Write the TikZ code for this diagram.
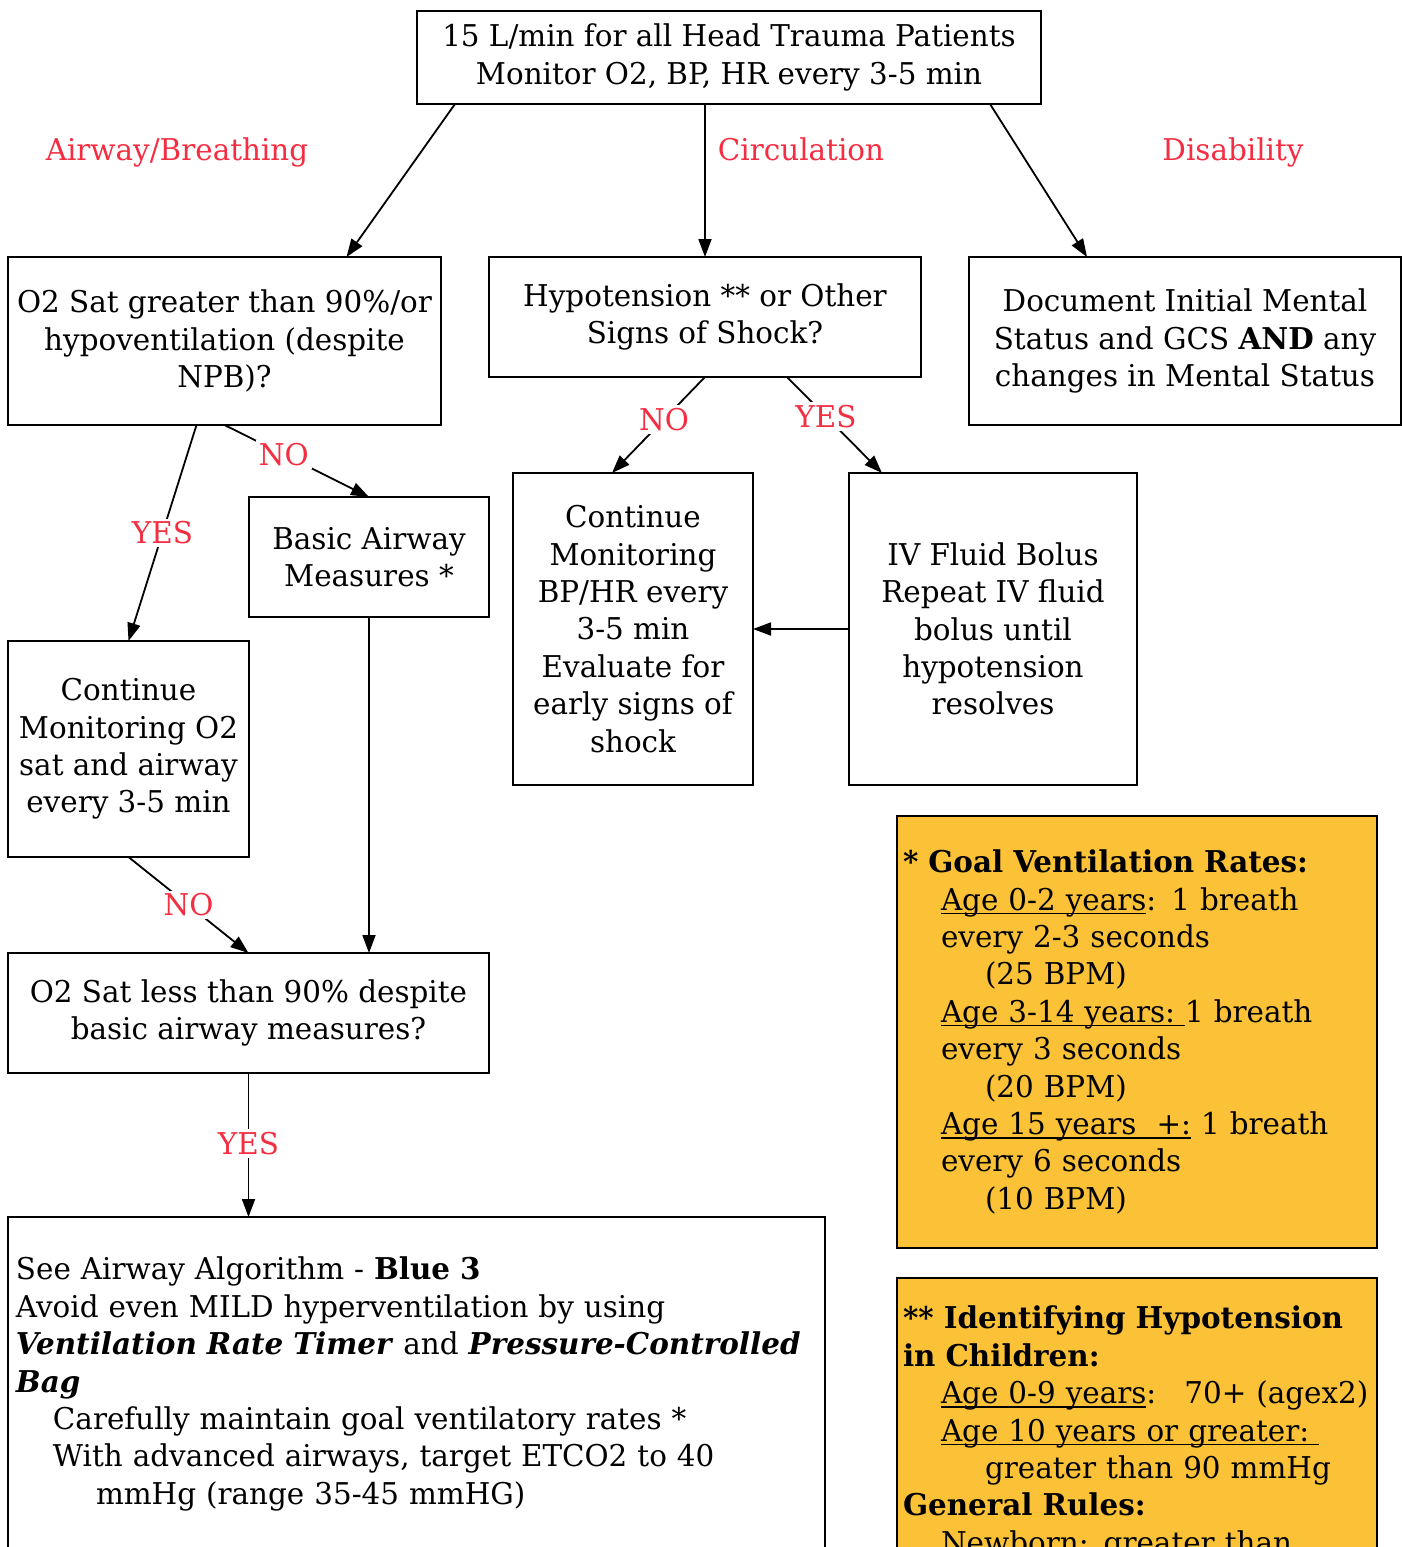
\documentclass[tikz,border=0pt]{standalone}
\usepackage{fontspec}
\setmainfont{DejaVu Serif}[FakeStretch=0.98]
\usetikzlibrary{arrows.meta,positioning}
\definecolor{flowred}{RGB}{245,45,65}
\definecolor{noteorange}{RGB}{251,194,55}
\newsavebox{\undrbox}
\newcommand{\undr}[1]{\sbox{\undrbox}{#1}\rlap{\rule[-2pt]{\wd\undrbox}{0.6pt}}\usebox{\undrbox}}
\tikzset{
  flowbox/.style={draw, line width=1pt, inner sep=0pt, outer sep=0pt, align=center,
    font=\fontsize{15}{18.7}\selectfont},
  notebox/.style={draw, fill=noteorange, line width=1pt, inner xsep=3pt, outer sep=0pt,
    text width=234pt, align=left, font=\fontsize{15}{18.7}\selectfont},
  heading/.style={text=flowred, anchor=base, font=\fontsize{15}{18.7}\selectfont},
  branch/.style={text=flowred, fill=white, inner sep=1.5pt, font=\fontsize{15}{18.7}\selectfont},
  flow/.style={-{Triangle[length=9pt,width=6.5pt]}, line width=0.9pt},
}
\begin{document}
\begin{tikzpicture}[x=0.5pt, y=-0.5pt]
  \useasboundingbox (0,0) rectangle (1402,1547);
  \clip (0,0) rectangle (1402,1547);
  \node[flowbox, minimum width=312pt, minimum height=46.5pt] (start) at (729,57.5)
    {15 L/min for all Head Trauma Patients\\Monitor O2, BP, HR every 3-5 min};
  \node[heading] (airlbl) at (177,160) {Airway/Breathing};
  \node[heading] (circlbl) at (801,160) {Circulation};
  \node[heading] (dislbl) at (1233,160) {Disability};
  \node[flowbox, minimum width=216.5pt, minimum height=84pt] (oxyhigh) at (224.5,341)
    {O2 Sat greater than 90\%/or\\hypoventilation (despite\\NPB)?};
  \node[flowbox, minimum width=216pt, minimum height=60pt] (shock) at (705,317)
    {Hypotension ** or Other\\Signs of Shock?};
  \node[flowbox, minimum width=216pt, minimum height=84pt] (mental) at (1185,341)
    {Document Initial Mental\\Status and GCS \textbf{AND} any\\changes in Mental Status};
  \node[flowbox, minimum width=120pt, minimum height=60pt] (basic) at (369,557)
    {Basic Airway\\Measures *};
  \node[flowbox, minimum width=120.5pt, minimum height=108pt] (monair) at (128.5,749)
    {Continue\\Monitoring O2\\sat and airway\\every 3-5 min};
  \node[flowbox, minimum width=240.5pt, minimum height=60pt] (oxylow) at (248.5,1013)
    {O2 Sat less than 90\% despite\\basic airway measures?};
  \node[flowbox, minimum width=408.5pt, minimum height=167pt, inner xsep=4pt,
    text width=400.5pt, align=left] (airway) at (416.5,1384)
    {See Airway Algorithm - \textbf{Blue 3}\\
     Avoid even MILD hyperventilation by using\\
     \textbf{\textit{Ventilation Rate Timer}} and \textbf{\textit{Pressure-Controlled}}\\
     \textbf{\textit{Bag}}\\
     \hspace*{18.5pt}Carefully maintain goal ventilatory rates *\\
     \hspace*{18.5pt}With advanced airways, target ETCO2 to 40\\
     \hspace*{40pt}mmHg (range 35-45 mmHG)};
  \node[flowbox, minimum width=120pt, minimum height=156pt] (monshock) at (633,629)
    {Continue\\Monitoring\\BP/HR every\\3-5 min\\Evaluate for\\early signs of\\shock};
  \node[flowbox, minimum width=144pt, minimum height=156pt] (bolus) at (993,629)
    {IV Fluid Bolus\\Repeat IV fluid\\bolus until\\hypotension\\resolves};
  \node[notebox, minimum height=216pt] (ventnote) at (1137,1032)
    {\textbf{* Goal Ventilation Rates:}\\
     \hspace*{19pt}\undr{Age 0-2 years}: 1 breath\\
     \hspace*{19pt}every 2-3 seconds\\
     \hspace*{41pt}(25 BPM)\\
     \hspace*{19pt}\undr{Age 3-14 years:\ }1 breath\\
     \hspace*{19pt}every 3 seconds\\
     \hspace*{41pt}(20 BPM)\\
     \hspace*{19pt}\undr{Age 15 years\ \ +:} 1 breath\\
     \hspace*{19pt}every 6 seconds\\
     \hspace*{41pt}(10 BPM)};
  \node[notebox, anchor=north, inner ysep=14pt] (hyponote) at (1137,1278)
    {\textbf{** Identifying Hypotension}\\
     \textbf{in Children:}\\
     \hspace*{19pt}\mbox{\undr{Age 0-9 years}:\hspace*{9pt} 70+ (agex2)}\\
     \hspace*{19pt}\undr{Age 10 years or greater:\ }\\
     \hspace*{41pt}greater than 90 mmHg\\
     \textbf{General Rules:}\\
     \hspace*{19pt}Newborn: greater than};
  \draw[flow] ([xshift=-137pt]start.south) -- ([xshift=61pt]oxyhigh.north);
  \draw[flow] ([xshift=-12pt]start.south) -- (shock.north);
  \draw[flow] ([xshift=130.5pt]start.south) -- ([xshift=-49pt]mental.north);
  \draw[flow] (oxyhigh.south) -- (basic.north) node[branch, pos=0.41] {NO};
  \draw[flow] ([xshift=-14pt]oxyhigh.south) -- (monair.north) node[branch, pos=0.5] {YES};
  \draw[flow] (monair.south) -- (oxylow.north) node[branch, pos=0.5] {NO};
  \draw[flow] (basic.south) -- (basic.south |- oxylow.north);
  \draw[flow] (oxylow.south) -- (oxylow.south |- airway.north) node[branch, pos=0.49] {YES};
  \draw[flow] (shock.south) -- ([xshift=-10.5pt]monshock.north) node[branch, pos=0.44] {NO};
  \draw[flow] ([xshift=41pt]shock.south) -- ([xshift=-55.5pt]bolus.north) node[branch, pos=0.41] {YES};
  \draw[flow] (bolus.west) -- (monshock.east);
\end{tikzpicture}
\end{document}
